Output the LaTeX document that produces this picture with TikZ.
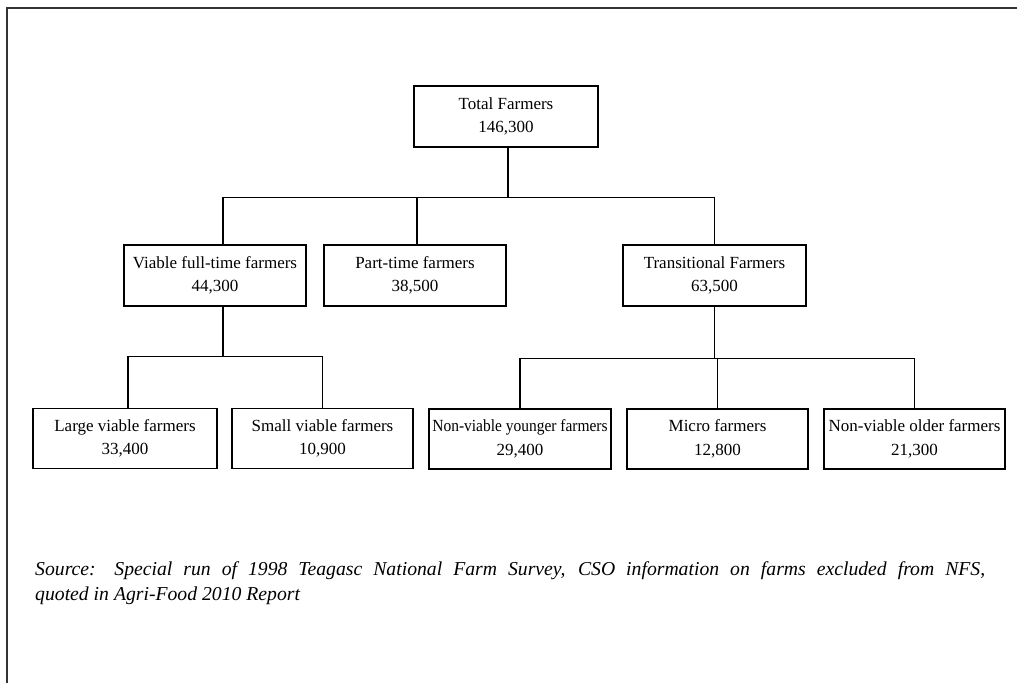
\documentclass[tikz,border=0pt]{standalone}
\usepackage{fontspec}
\setmainfont{Liberation Serif}
\usepackage{graphicx}
\tikzset{
	farmbox/.style={draw, line width=1.3pt, rectangle, minimum width=182pt, minimum height=61pt,
		align=center, inner sep=1pt, font=\fontsize{17}{23.5}\selectfont},
	link/.style={line width=1.3pt}
}
\begin{document}
\begin{tikzpicture}[x=1pt, y=-1pt]
			\useasboundingbox (0,0) rectangle (1017,683);
			% Page frame (top and left edges only)
			\draw[line width=2pt, black!80] (1017,8) -- (7,8) -- (7,683);

			% Top level
			\node[farmbox, minimum width=184pt] (total) at (506,116.5) {Total Farmers\\146,300};

			% Second level
			\node[farmbox] (viable) at (215,275.5) {Viable full-time farmers\\44,300};
			\node[farmbox] (part) at (415,275.5) {Part-time farmers\\38,500};
			\node[farmbox, minimum width=183pt] (trans) at (714.5,275.5) {Transitional Farmers\\63,500};

			% Third level
			\node[farmbox, minimum width=184pt, minimum height=60pt] (large) at (125,438.5) {Large viable farmers\\33,400};
			\node[farmbox, minimum width=181pt, minimum height=60pt] (small) at (322.5,438.5) {Small viable farmers\\10,900};
			\node[farmbox, minimum height=60pt] (younger) at (520,439) {\scalebox{0.91}[1]{Non-viable younger farmers}\\29,400};
			\node[farmbox, minimum width=181pt, minimum height=60pt] (micro) at (717.5,439) {Micro farmers\\12,800};
			\node[farmbox, minimum width=181pt, minimum height=60pt] (older) at (914.5,439) {Non-viable older farmers\\21,300};

			% Connectors
			\draw[link] ([xshift=2pt]total.south) -- ++(0,50) coordinate (topbar);
			\draw[link] ([xshift=8pt]viable.north) |- (topbar);
			\draw[link] ([xshift=2pt]part.north) -- ([xshift=2pt]part.north |- topbar);
			\draw[link] (trans.north) |- (topbar);

			\draw[link] ([xshift=8pt]viable.south) -- ++(0,50) coordinate (leftbar);
			\draw[link] ([xshift=3pt]large.north) |- (leftbar);
			\draw[link] (small.north) |- (leftbar);

			\draw[link] (trans.south) -- ++(0,52) coordinate (rightbar);
			\draw[link] (younger.north) |- (rightbar);
			\draw[link] (micro.north) -- (micro.north |- rightbar);
			\draw[link] (older.north) |- (rightbar);

			% Source note (justified first line)
			\node[anchor=base west, text width=950pt, align=justify, font=\fontsize{19.7}{25}\selectfont\itshape, inner sep=0pt] (source) at (35,575)
				{Source: Special run of 1998 Teagasc National Farm Survey, CSO information on farms excluded from NFS,\linebreak
				quoted in Agri-Food 2010 Report};
\end{tikzpicture}
\end{document}
